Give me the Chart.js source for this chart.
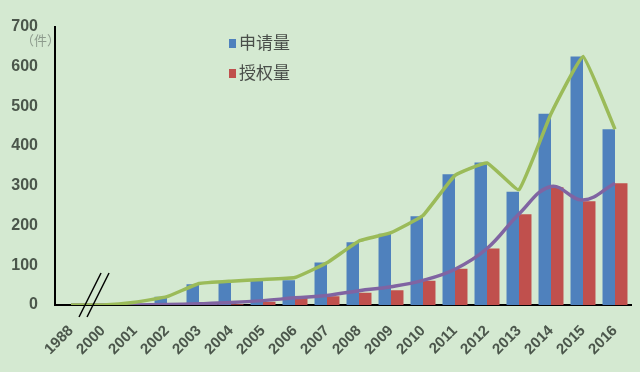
<!DOCTYPE html>
<html>
<head>
<meta charset="utf-8">
<script src="https://cdn.jsdelivr.net/npm/chart.js@4.4.1/dist/chart.umd.min.js"></script>
<style>
  html, body { margin: 0; padding: 0; background: #d4e9d1; }
  #wrap { position: relative; width: 640px; height: 372px; background: #d4e9d1; overflow: hidden; }
  canvas { position: absolute; left: 0; top: 0; }
  .leg { position: absolute; font-family: "Noto Sans CJK SC", sans-serif; font-size: 17px; color: #4a4f4a; line-height: 20px; white-space: nowrap; }
  .sw { display: inline-block; width: 7px; height: 9px; margin-right: 3px; vertical-align: 1px; }
  #unit { position: absolute; left: 21px; top: 32px; font-family: "Noto Sans CJK SC", sans-serif; font-size: 13px; color: #8d9b8d; line-height: 16px; }
</style>
</head>
<body>
<div id="wrap">
  <canvas id="c" width="640" height="372"></canvas>
  <div id="unit">（件）</div>
  <div class="leg" style="left:229px; top:32px;"><span class="sw" style="background:#4f81bd"></span>申请量</div>
  <div class="leg" style="left:229px; top:62px;"><span class="sw" style="background:#c0504d"></span>授权量</div>
</div>
<script>
const years = ['1988','2000','2001','2002','2003','2004','2005','2006','2007','2008','2009','2010','2011','2012','2013','2014','2015','2016'];
const applications = [0, 0, 2, 21, 52, 58, 61, 62, 107, 158, 179, 223, 329, 358, 285, 481, 625, 442];
const grants       = [0, 0, 0, 0, 0, 2, 8, 19, 22, 31, 37, 61, 91, 142, 228, 296, 261, 306];
const applicationTrend = [0, 0, 7, 21, 54, 60, 64, 69, 106, 161, 182, 225, 326, 357, 290, 481, 625, 442];
const grantTrend       = [0, 0, 0, 1, 3, 6, 11, 18, 24, 36, 46, 62, 90, 142, 229, 298, 264, 306];
const yTicks = [0, 100, 200, 300, 400, 500, 600, 700];

const labelColor = '#4b564b';

const breakMarks = {
  id: 'breakMarks',
  afterDatasetsDraw(chart) {
    const x = chart.scales.x, y = chart.scales.y;
    const p0 = x.getPixelForValue(0), p1 = x.getPixelForValue(1);
    const cx = p0 + (p1 - p0) * 0.72;
    const cy = y.bottom - 10;
    const ctx = chart.ctx;
    ctx.save();
    ctx.strokeStyle = '#000';
    ctx.lineWidth = 1.5;
    [-4, 4].forEach(d => {
      ctx.beginPath();
      ctx.moveTo(cx + d - 11, cy + 22);
      ctx.lineTo(cx + d + 11, cy - 22);
      ctx.stroke();
    });
    ctx.restore();
  }
};

new Chart(document.getElementById('c'), {
  type: 'bar',
  data: {
    labels: years,
    datasets: [
      { type: 'line', label: '申请量趋势', data: applicationTrend, borderColor: '#9bbb59', borderWidth: 3.5, pointRadius: 0, tension: 0.1, order: 0, fill: false },
      { type: 'line', label: '授权量趋势', data: grantTrend, borderColor: '#8064a2', borderWidth: 3.5, pointRadius: 0, tension: 0.4, order: 0, fill: false },
      { label: '申请量', data: applications, backgroundColor: '#4f81bd', order: 1, barPercentage: 1, categoryPercentage: 0.78 },
      { label: '授权量', data: grants, backgroundColor: '#c0504d', order: 1, barPercentage: 1, categoryPercentage: 0.78 }
    ]
  },
  options: {
    responsive: false,
    devicePixelRatio: 1,
    animation: false,
    layout: { padding: { top: 25, right: 9, left: 0, bottom: 0 } },
    plugins: { legend: { display: false }, tooltip: { enabled: false } },
    scales: {
      x: {
        grid: { display: false, drawTicks: false },
        border: { display: true, color: '#000', width: 2 },
        ticks: {
          autoSkip: false, minRotation: 45, maxRotation: 45, padding: 17,
          color: labelColor, font: { family: 'Liberation Sans', size: 15, weight: 'bold' }
        },
        afterFit(s) { s.height = 67; s.paddingLeft = 0; s.paddingRight = 0; }
      },
      y: {
        min: 0, max: 700,
        grid: { display: false, drawTicks: false },
        border: { display: true, color: '#000', width: 2 },
        afterBuildTicks(s) { s.ticks = yTicks.map(v => ({ value: v })); },
        ticks: {
          padding: 17, color: labelColor,
          font: { family: 'Liberation Sans', size: 16, weight: 'bold' }
        },
        afterFit(s) { s.width = 55; }
      }
    }
  },
  plugins: [breakMarks]
});
</script>
</body>
</html>
